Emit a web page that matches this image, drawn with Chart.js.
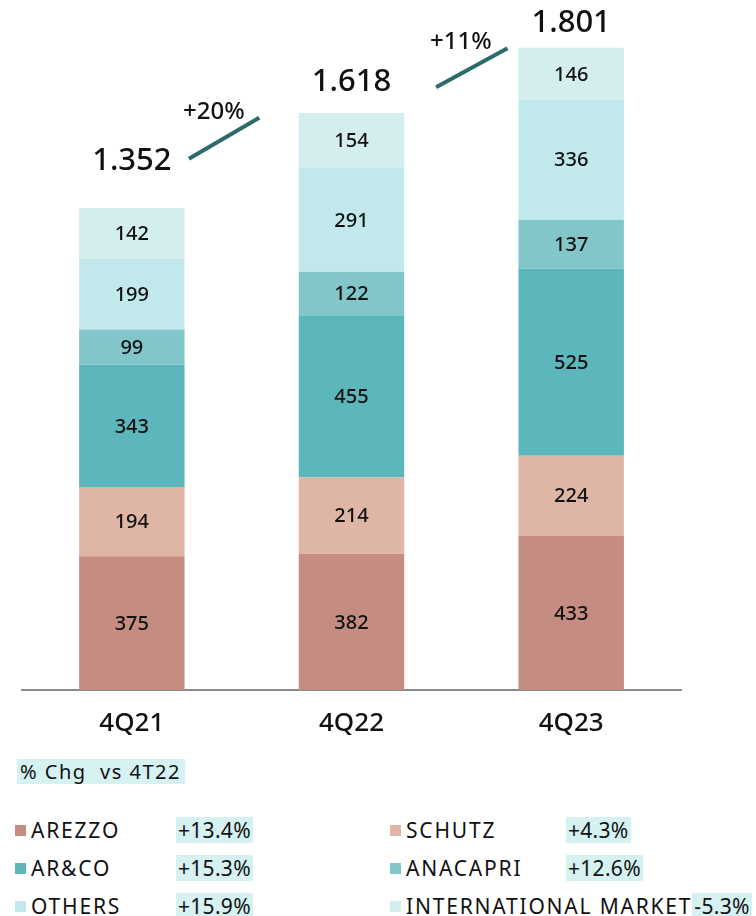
<!DOCTYPE html>
<html>
<head>
<meta charset="utf-8">
<script src="https://cdn.jsdelivr.net/npm/chart.js@4.4.0/dist/chart.umd.min.js"></script>
<style>
    body { margin: 0; width: 756px; height: 916px; background: #fff; position: relative; overflow: hidden;
           font-family: 'Noto Sans', sans-serif; color: #111; }
    #wrap { position: absolute; left: 0; top: 0; width: 756px; height: 750px; }
    #chgTitle { position: absolute; left: 17px; top: 759px; height: 25px; line-height: 25px; padding: 0 4px 0 3px;
                background: #d6f1f1; font-size: 20px; letter-spacing: 1.5px; white-space: pre; }
    .item { position: absolute; display: flex; align-items: center; height: 26px; font-size: 21px; letter-spacing: 1.8px; }
    .item .box { width: 11px; height: 11px; margin-right: 5px; }
    .item .pct { background: #d6f1f1; height: 26px; line-height: 26px; padding: 0 2px; letter-spacing: 0.3px; }
</style>
</head>
<body>
<div id="wrap"><canvas id="salesChart" width="756" height="750"></canvas></div>
<div id="chgTitle">% Chg  vs 4T22</div>
<div id="legend"></div>
<script>
// Receita por marca (R$ mi)
const quarters = ['4Q21', '4Q22', '4Q23'];
const arezzo = [375, 382, 433];
const schutz = [194, 214, 224];
const arco = [343, 455, 525];
const anacapri = [99, 122, 137];
const others = [199, 291, 336];
const international = [142, 154, 146];
const growthLabels = ['+20%', '+11%'];

const brandNames = ['AREZZO', 'SCHUTZ', 'AR&CO', 'ANACAPRI', 'OTHERS', 'INTERNATIONAL MARKET'];
const brandChg = ['+13.4%', '+4.3%', '+15.3%', '+12.6%', '+15.9%', '-5.3%'];

const brandColors = ['#c58c81', '#dfb6a5', '#5db6bc', '#82c6ca', '#c1e8ea', '#d4edee'];
const series = [arezzo, schutz, arco, anacapri, others, international];

// formata total no padrão 1.352
function fmtTotal(v) {
    return String(v).replace(/\B(?=(\d{3})+(?!\d))/g, '.');
}

const totals = quarters.map((q, i) => series.reduce((s, arr) => s + arr[i], 0));

// deslocamento do total acima da barra e posição das setas de crescimento
const totalLift = [47, 31, 25];
const growthLine = [
    { from: 0.26, to: 0.58, yFrom: 1490, yTo: 1605 },
    { from: 0.385, to: 0.71, yFrom: 1690, yTo: 1800 }
];

const labelPlugin = {
    id: 'labels',
    afterDatasetsDraw(chart) {
        const ctx = chart.ctx;
        const y = chart.scales.y;
        ctx.save();
        ctx.fillStyle = '#111';
        ctx.textAlign = 'center';
        ctx.textBaseline = 'middle';
        ctx.font = '500 20px "Noto Sans"';
        chart.data.datasets.forEach((ds, di) => {
            const meta = chart.getDatasetMeta(di);
            meta.data.forEach((bar, i) => {
                ctx.fillText(ds.data[i], bar.x, (bar.y + bar.base) / 2 + 1);
            });
        });

        // totais
        const topMeta = chart.getDatasetMeta(chart.data.datasets.length - 1);
        ctx.font = '500 31px "Noto Sans"';
        topMeta.data.forEach((bar, i) => {
            ctx.fillText(fmtTotal(totals[i]), bar.x, bar.y - totalLift[i]);
        });

        // setas de crescimento
        growthLine.forEach((g, i) => {
            const a = topMeta.data[i].x, b = topMeta.data[i + 1].x;
            const x1 = a + (b - a) * g.from, x2 = a + (b - a) * g.to;
            const y1 = y.getPixelForValue(g.yFrom), y2 = y.getPixelForValue(g.yTo);
            ctx.strokeStyle = '#2d6a6b';
            ctx.lineWidth = 4;
            ctx.beginPath();
            ctx.moveTo(x1, y1);
            ctx.lineTo(x2, y2);
            ctx.stroke();
            ctx.font = '500 24px "Noto Sans"';
            ctx.textAlign = 'left';
            ctx.textBaseline = 'alphabetic';
            ctx.fillText(growthLabels[i], x1 - 6, y2 + 1);
            ctx.textAlign = 'center';
            ctx.textBaseline = 'middle';
        });
        ctx.restore();
    }
};

new Chart(document.getElementById('salesChart'), {
    type: 'bar',
    data: {
        labels: quarters,
        datasets: series.map((arr, i) => ({
            label: brandNames[i],
            data: arr,
            backgroundColor: brandColors[i],
            borderWidth: 0,
            barPercentage: 0.48,
            categoryPercentage: 1
        }))
    },
    options: {
        responsive: false,
        animation: false,
        devicePixelRatio: 1,
        layout: { padding: { left: 22, right: 75, top: 0, bottom: 0 } },
        plugins: { legend: { display: false }, tooltip: { enabled: false } },
        scales: {
            x: {
                stacked: true,
                grid: { display: false, drawTicks: false },
                border: { color: '#8a8a8a', width: 2 },
                ticks: { color: '#111', font: { family: 'Noto Sans', size: 26, weight: '500' }, padding: 18 },
                afterFit(scale) { scale.height = 60; }
            },
            y: {
                stacked: true,
                display: false,
                min: 0,
                max: 1935
            }
        }
    },
    plugins: [labelPlugin]
});

// legenda em duas colunas
const legendEl = document.getElementById('legend');
const rowTop = [817, 855, 893];
brandNames.forEach((name, i) => {
    const col = i % 2, row = Math.floor(i / 2);
    const item = document.createElement('div');
    item.className = 'item';
    item.style.left = (col ? 390 : 15) + 'px';
    item.style.top = rowTop[row] + 'px';
    item.innerHTML = '<span class="box" style="background:' + brandColors[i] + '"></span>' +
        '<span class="name" style="min-width:' + (col ? 160 : 145) + 'px">' + name.replace('&', '&amp;') + '</span>' +
        '<span class="pct">' + brandChg[i] + '</span>';
    legendEl.appendChild(item);
});
</script>
</body>
</html>
